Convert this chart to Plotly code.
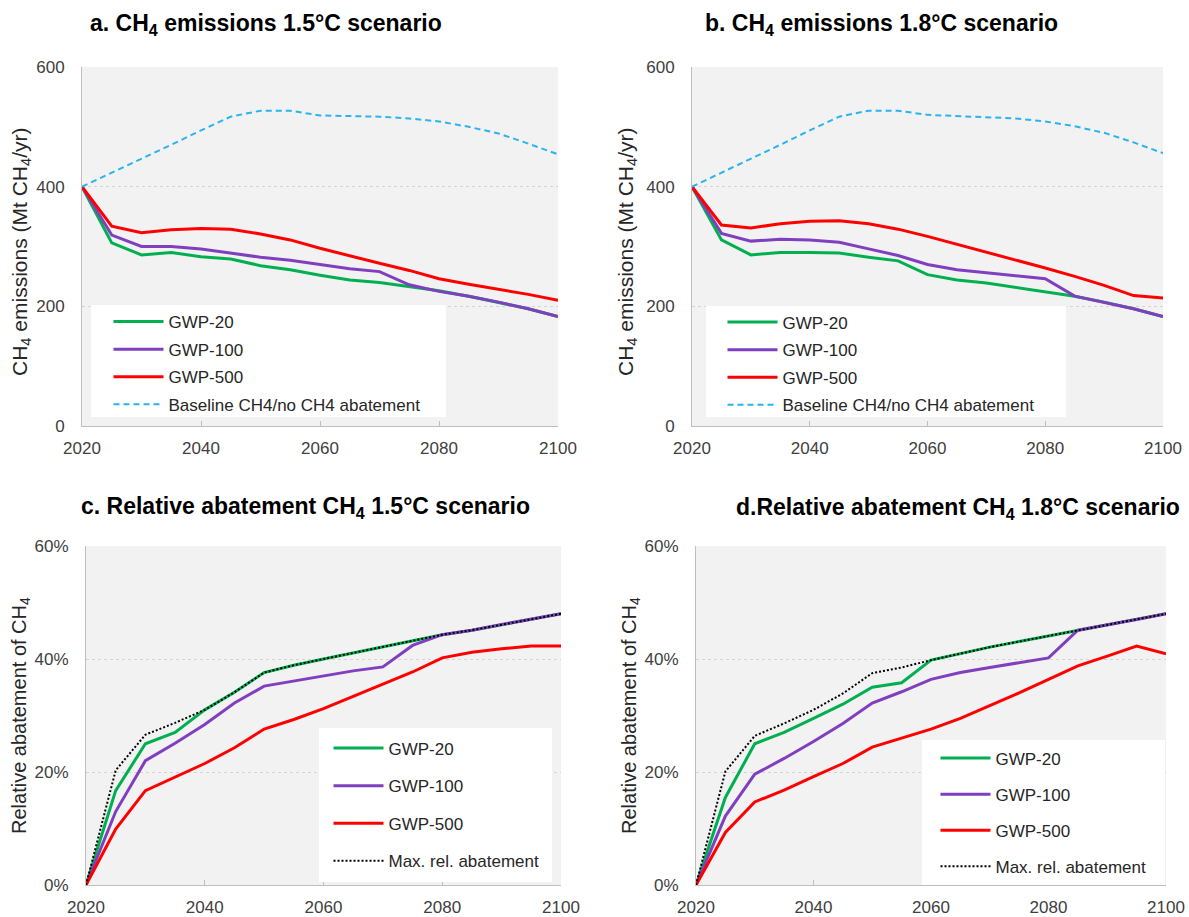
import plotly.graph_objects as go

years = list(range(2020, 2101, 5))

# Panel a: CH4 emissions, 1.5°C scenario (Mt CH4/yr)
a_gwp20 = [400, 306, 286, 290, 283, 279, 268, 261, 252, 244, 240, 233, 226, 217, 207, 196, 183]
a_gwp100 = [400, 319, 300, 300, 296, 289, 282, 277, 270, 263, 258, 236, 225, 217, 207, 196, 183]
a_gwp500 = [400, 334, 323, 328, 330, 329, 321, 311, 297, 284, 272, 260, 246, 237, 229, 220, 210]
a_baseline = [400, 423, 447, 470, 494, 517, 527, 527, 519, 518, 517, 514, 509, 500, 489, 472, 454]

# Panel b: CH4 emissions, 1.8°C scenario (Mt CH4/yr)
b_gwp20 = [400, 311, 286, 290, 290, 289, 282, 276, 253, 244, 239, 232, 225, 217, 207, 196, 183]
b_gwp100 = [400, 322, 309, 312, 311, 307, 296, 285, 270, 261, 256, 251, 246, 217, 207, 196, 183]
b_gwp500 = [400, 336, 331, 338, 342, 343, 338, 329, 317, 304, 291, 278, 264, 250, 235, 218, 214]
b_baseline = [400, 423, 447, 470, 494, 517, 527, 527, 520, 518, 517, 514, 509, 501, 490, 474, 456]

# Panel c: relative abatement, 1.5°C scenario (%)
c_gwp20 = [0, 16.7, 25.0, 27.0, 31.0, 34.1, 37.6, 38.9, 40.0, 41.1, 42.2, 43.2, 44.3, 45.1, 46.1, 47.0, 48.0]
c_gwp100 = [0, 13.0, 22.0, 25.1, 28.4, 32.2, 35.2, 36.1, 37.0, 37.9, 38.6, 42.4, 44.3, 45.1, 46.1, 47.0, 48.0]
c_gwp500 = [0, 9.9, 16.7, 19.1, 21.5, 24.3, 27.6, 29.3, 31.2, 33.4, 35.6, 37.7, 40.2, 41.2, 41.8, 42.3, 42.3]
c_max = [0, 20.3, 26.6, 28.7, 31.0, 34.1, 37.6, 38.9, 40.0, 41.1, 42.2, 43.2, 44.3, 45.1, 46.1, 47.0, 48.0]

# Panel d: relative abatement, 1.8°C scenario (%)
d_gwp20 = [0, 15.5, 25.0, 27.0, 29.5, 32.0, 35.0, 35.8, 39.8, 41.0, 42.1, 43.1, 44.1, 45.1, 46.0, 47.0, 48.0]
d_gwp100 = [0, 12.2, 19.6, 22.4, 25.4, 28.6, 32.2, 34.2, 36.4, 37.6, 38.5, 39.4, 40.2, 45.1, 46.0, 47.0, 48.0]
d_gwp500 = [0, 9.3, 14.7, 16.8, 19.2, 21.5, 24.4, 26.0, 27.6, 29.5, 31.7, 34.0, 36.4, 38.8, 40.5, 42.3, 40.9]
d_max = [0, 20.1, 26.4, 28.6, 31.0, 33.9, 37.5, 38.5, 39.8, 41.0, 42.1, 43.1, 44.1, 45.1, 46.0, 47.0, 48.0]

x_ticks = [2020, 2040, 2060, 2080, 2100]
y_ticks_em = [0, 200, 400, 600]
y_ticklabels_em = ["0", "200", "400", "600"]
y_ticks_rel = [0, 20, 40, 60]
y_ticklabels_rel = ["0%", "20%", "40%", "60%"]

titles = [
    "a. CH<sub>4</sub> emissions 1.5°C scenario",
    "b. CH<sub>4</sub> emissions 1.8°C scenario",
    "c. Relative abatement CH<sub>4</sub> 1.5°C scenario",
    "d.Relative abatement CH<sub>4</sub> 1.8°C scenario",
]
ytitle_em = "CH<sub>4</sub> emissions (Mt CH<sub>4</sub>/yr)"
ytitle_rel = "Relative abatement of CH<sub>4</sub>"

GREEN = "#00b050"
PURPLE = "#7f3fbf"
RED = "#ff0000"
BLUE = "#2ab3ee"
W, H = 1189, 917
FONT = "Liberation Sans, Arial, sans-serif"

def px(v):
    return v / W

def py(v):
    return 1 - v / H

fig = go.Figure()

panels = [
    ("x", "y", "legend", [("GWP-20", a_gwp20, GREEN, "solid", 3), ("GWP-100", a_gwp100, PURPLE, "solid", 3),
                          ("GWP-500", a_gwp500, RED, "solid", 3),
                          ("Baseline CH4/no CH4 abatement", a_baseline, BLUE, "6px,4px", 2)]),
    ("x2", "y2", "legend2", [("GWP-20", b_gwp20, GREEN, "solid", 3), ("GWP-100", b_gwp100, PURPLE, "solid", 3),
                             ("GWP-500", b_gwp500, RED, "solid", 3),
                             ("Baseline CH4/no CH4 abatement", b_baseline, BLUE, "6px,4px", 2)]),
    ("x3", "y3", "legend3", [("GWP-20", c_gwp20, GREEN, "solid", 3), ("GWP-100", c_gwp100, PURPLE, "solid", 3),
                             ("GWP-500", c_gwp500, RED, "solid", 3),
                             ("Max. rel. abatement", c_max, "#000000", "2px,2px", 2)]),
    ("x4", "y4", "legend4", [("GWP-20", d_gwp20, GREEN, "solid", 3), ("GWP-100", d_gwp100, PURPLE, "solid", 3),
                             ("GWP-500", d_gwp500, RED, "solid", 3),
                             ("Max. rel. abatement", d_max, "#000000", "2px,2px", 2)]),
]

for pi, (xa, ya, lg, series) in enumerate(panels):
    for si, (name, vals, col, dash, wd) in enumerate(series):
        fig.add_trace(go.Scatter(
            x=years, y=vals, mode="lines", name=name,
            line=dict(color=col, width=wd, dash=dash),
            xaxis=xa, yaxis=ya, legend=lg,
            legendgroup=f"{lg}_{si}", showlegend=True,
        ))

# plot area pixel boxes: (left, right, top, bottom)
boxes = [(82, 558, 67, 426), (692, 1163, 67, 426), (86, 561, 546, 885), (696, 1166, 546, 885)]

axis_common = dict(showline=True, linecolor="#bfbfbf", linewidth=1, zeroline=False,
                   tickfont=dict(family=FONT, size=17, color="#404040"))

layout_axes = {}
for i, (l, r, t, b) in enumerate(boxes):
    sfx = "" if i == 0 else str(i + 1)
    layout_axes["xaxis" + sfx] = dict(
        domain=[px(l), px(r)], anchor="y" + sfx, range=[2020, 2100],
        tickvals=x_ticks, ticks="inside", ticklen=5, tickcolor="#bfbfbf",
        showgrid=False, ticklabelstandoff=7, **axis_common)
    if i < 2:
        yrng, yt, ytt = [0, 600], y_ticks_em, y_ticklabels_em
    else:
        yrng, yt, ytt = [0, 60], y_ticks_rel, y_ticklabels_rel
    layout_axes["yaxis" + sfx] = dict(
        domain=[py(b), py(t)], anchor="x" + sfx, range=yrng, tickvals=yt, ticktext=ytt,
        showgrid=True, gridcolor="#d4d4d4", griddash="dot", gridwidth=1,
        ticks="", ticklabelstandoff=13, **axis_common)

fig.update_layout(**layout_axes)

# legend boxes (white) and legend placement
leg_boxes = [(91, 446, 305, 417), (706, 1066, 306, 417), (319, 552, 728, 882), (922, 1165, 740, 885)]
shapes = []
for (l, r, t, b) in leg_boxes:
    shapes.append(dict(type="rect", xref="paper", yref="paper", x0=px(l), x1=px(r), y0=py(b), y1=py(t),
                       fillcolor="white", line=dict(width=0), layer="above"))

leg_font = dict(family=FONT, size=17, color="#262626")
legends = {
    "legend": dict(x=px(108.5), y=py(304), font=leg_font, tracegroupgap=2.5),
    "legend2": dict(x=px(722.5), y=py(304.5), font=leg_font, tracegroupgap=2.5),
    "legend3": dict(x=px(328.5), y=py(730.5), font=leg_font, tracegroupgap=12.5),
    "legend4": dict(x=px(935.5), y=py(740.5), font=leg_font, tracegroupgap=11),
}
for k, v in legends.items():
    v.update(xanchor="left", yanchor="top", bgcolor="rgba(0,0,0,0)", borderwidth=0,
             traceorder="grouped", itemwidth=50)
fig.update_layout(**legends)

annotations = []
title_pos = [(266, 25), (881, 25), (305, 507), (958, 508)]
for (tx, ty), txt in zip(title_pos, titles):
    annotations.append(dict(text="<b>" + txt + "</b>", x=px(tx), y=py(ty), xref="paper", yref="paper",
                            xanchor="center", yanchor="middle", showarrow=False,
                            font=dict(family=FONT, size=23, color="#000000")))

ytitle_pos = [(21, 252, ytitle_em, 21), (627, 252, ytitle_em, 21), (20, 716, ytitle_rel, 20),
              (630, 716, ytitle_rel, 20)]
for tx, ty, txt, fs in ytitle_pos:
    annotations.append(dict(text=txt, x=px(tx), y=py(ty), xref="paper", yref="paper",
                            xanchor="center", yanchor="middle", showarrow=False, textangle=-90,
                            font=dict(family=FONT, size=fs, color="#262626")))

fig.update_layout(
    width=W, height=H, margin=dict(l=0, r=0, t=0, b=0, autoexpand=False),
    paper_bgcolor="white", plot_bgcolor="#f2f2f2",
    shapes=shapes, annotations=annotations,
)

fig.write_html("out.html")
